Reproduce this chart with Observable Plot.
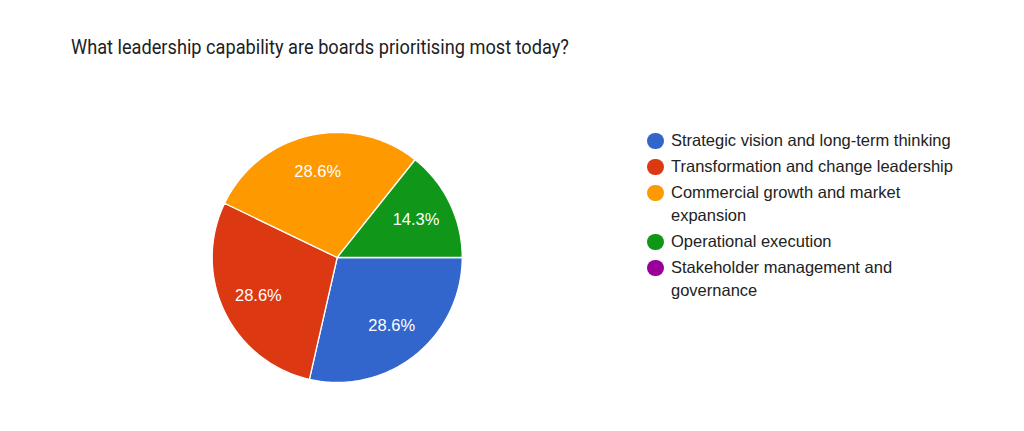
<!DOCTYPE html>
<html>
<head>
<meta charset="utf-8">
<script src="https://cdn.jsdelivr.net/npm/d3@7"></script>
<script src="https://cdn.jsdelivr.net/npm/@observablehq/plot@0.6"></script>
<style>
  body { margin: 0; background: #fff; }
  #wrap { position: relative; width: 1024px; height: 431px; overflow: hidden; background: #fff; }
  #title { position: absolute; left: 71px; top: 35px; font-family: Roboto, sans-serif; font-size: 20.5px; line-height: 25px; color: #202124; white-space: nowrap; transform: scaleX(0.887); transform-origin: 0 50%; }
  #chart { position: absolute; left: 0; top: 0; }
  #legend { position: absolute; left: 647px; top: 129px; font-family: "Liberation Sans", Arial, sans-serif; font-size: 16.5px; line-height: 23px; color: #222; }
  .item { display: flex; align-items: flex-start; margin-bottom: 3px; }
  .dot { width: 16.5px; height: 16.5px; border-radius: 50%; flex: none; margin-top: 3.5px; margin-right: 7.5px; }
  .lab { max-width: 292px; }
</style>
</head>
<body>
<div id="wrap">
  <div id="chart"></div>
  <div id="title"></div>
  <div id="legend"></div>
</div>
<script>
const title = "What leadership capability are boards prioritising most today?";
const categories = [
  "Strategic vision and long-term thinking",
  "Transformation and change leadership",
  "Commercial growth and market expansion",
  "Operational execution",
  "Stakeholder management and governance"
];
const values = [2, 2, 2, 1, 0];
const colors = ["#3366cc", "#dc3912", "#ff9900", "#109618", "#990099"];

document.getElementById("title").textContent = title;

// layout
const W = 1024, H = 431;
const cx = 336.7, cy = 257, R = 125;
const startDeg = 90; // clockwise from 12 o'clock

const total = d3.sum(values);
const slices = [];
let acc = startDeg;
categories.forEach((c, i) => {
  const span = values[i] / total * 360;
  slices.push({cat: c, value: values[i], a0: acc, a1: acc + span});
  acc += span;
});

const rad = d => d * Math.PI / 180;
const polyPts = [];
for (const s of slices) {
  if (s.value <= 0) continue;
  polyPts.push({cat: s.cat, x: 0, y: 0});
  const n = Math.max(2, Math.ceil(s.a1 - s.a0));
  for (let k = 0; k <= n; k++) {
    const a = rad(s.a0 + (s.a1 - s.a0) * k / n);
    polyPts.push({cat: s.cat, x: Math.sin(a), y: Math.cos(a)});
  }
  polyPts.push({cat: s.cat, x: 0, y: 0});
}
const labels = slices.filter(s => s.value > 0).map(s => {
  const m = rad((s.a0 + s.a1) / 2);
  return {cat: s.cat, x: 0.7 * Math.sin(m), y: 0.7 * Math.cos(m), text: (s.value / total * 100).toFixed(1) + "%"};
});

const plot = Plot.plot({
  width: W, height: H,
  margin: 0,
  x: {domain: [-1, 1], range: [cx - R, cx + R], axis: null},
  y: {domain: [-1, 1], range: [cy + R, cy - R], axis: null},
  color: {domain: categories, range: colors},
  style: {background: "transparent", overflow: "visible"},
  marks: [
    Plot.line(polyPts, {x: "x", y: "y", z: "cat", fill: "cat", stroke: "#ffffff", strokeWidth: 1.3, strokeLinejoin: "round", curve: "linear"}),
    Plot.text(labels, {x: "x", y: "y", text: "text", fill: "#ffffff", fontSize: 16.5, fontFamily: "Liberation Sans, Arial, sans-serif"})
  ]
});
document.getElementById("chart").appendChild(plot);

const legend = document.getElementById("legend");
categories.forEach((c, i) => {
  const item = document.createElement("div");
  item.className = "item";
  const dot = document.createElement("span");
  dot.className = "dot";
  dot.style.background = colors[i];
  const lab = document.createElement("span");
  lab.className = "lab";
  lab.textContent = c;
  item.appendChild(dot);
  item.appendChild(lab);
  legend.appendChild(item);
});
</script>
</body>
</html>
